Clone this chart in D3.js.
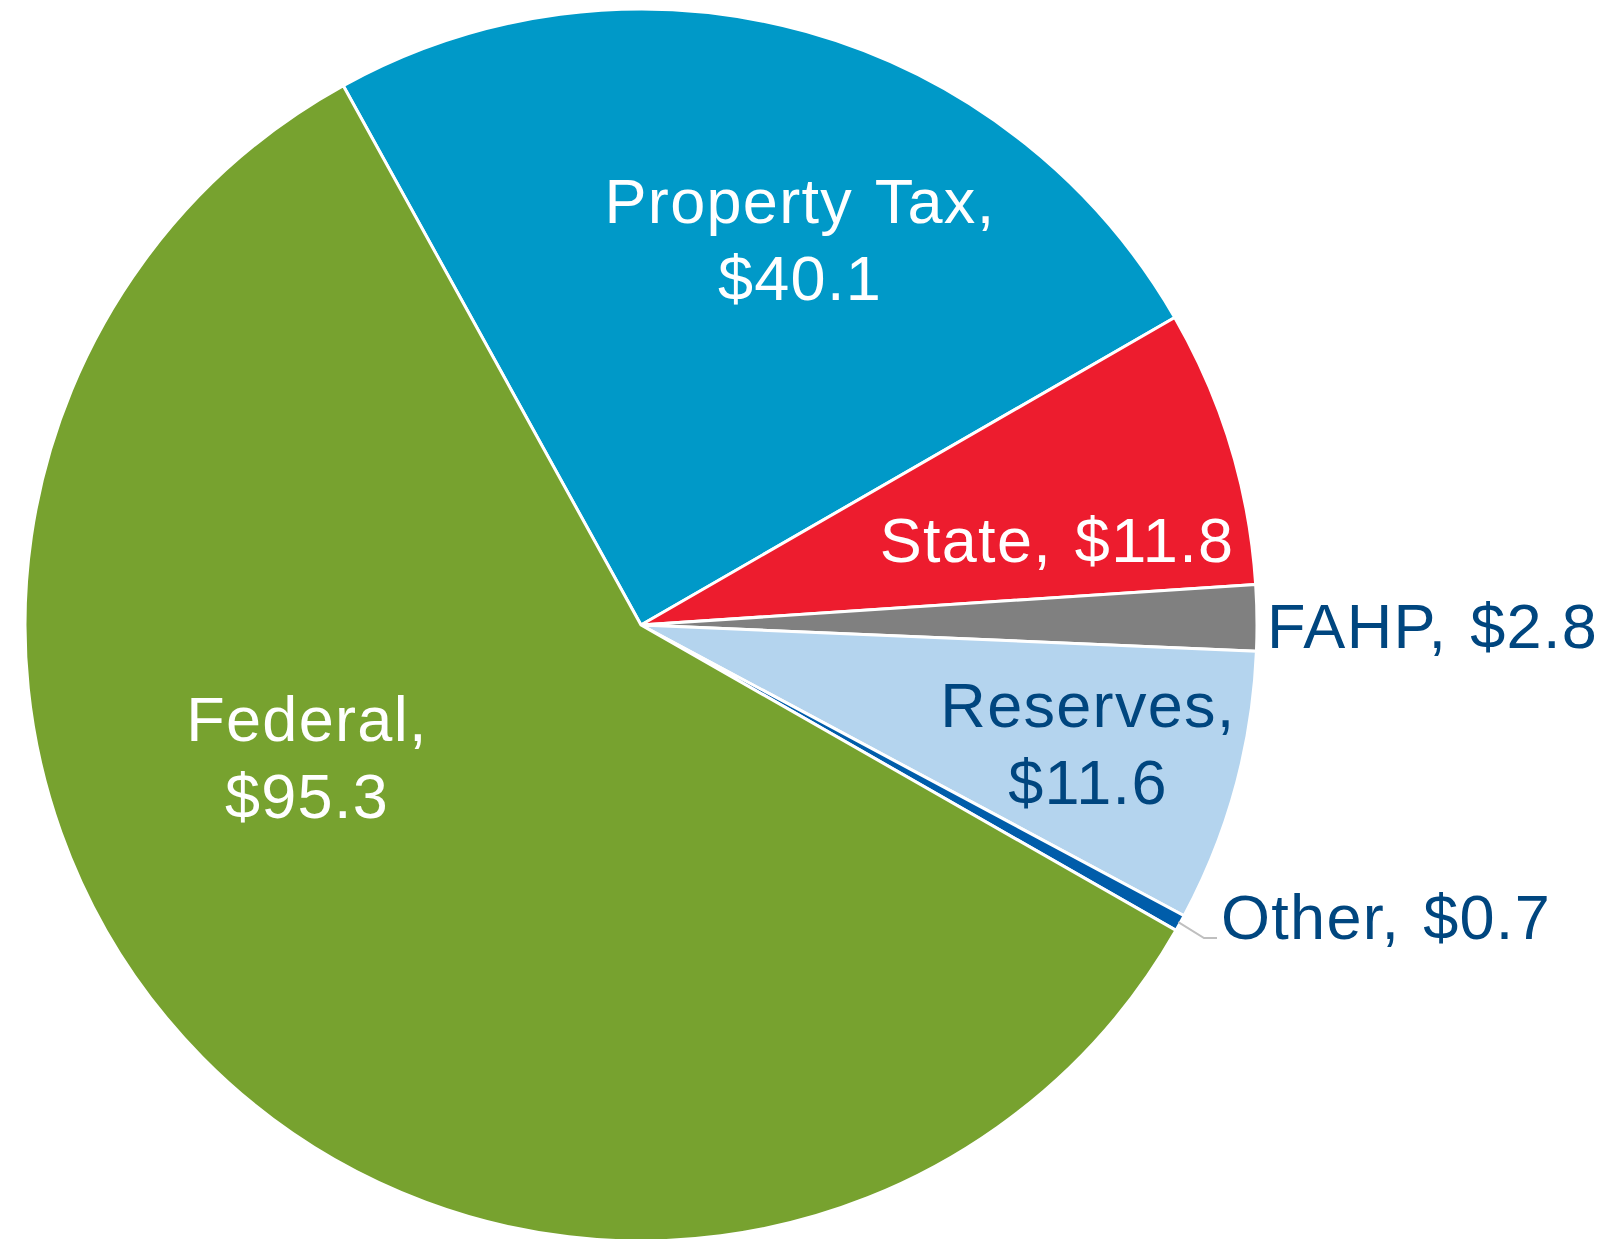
<!DOCTYPE html>
<html>
  <head>
    <meta charset="utf-8">
    <script src="https://d3js.org/d3.v7.min.js"></script>
    <title>Revenue Sources</title>
    <style>
      body { margin: 0; background: #fff; }
      text { font-family: "Liberation Sans", Arial, sans-serif; }
    </style>
  </head>
  <body>
    <svg width="1605" height="1239"></svg>
    <script>
      // data, clockwise starting from the Property Tax slice
      const categories = ['Property Tax', 'State', 'FAHP', 'Reserves', 'Other', 'Federal'];
      const values = [40.1, 11.8, 2.8, 11.6, 0.7, 95.3];
      const colors = ['#0099C8', '#ED1C2E', '#808080', '#B4D4EE', '#005DAA', '#77A22F'];

      // label layout: x, first baseline, anchor, colour, two lines or one
      const labelLayout = [
        { x: 800, y: 223, anchor: 'middle', fill: '#fff', split: true },
        { x: 1057, y: 562, anchor: 'middle', fill: '#fff', split: false },
        { x: 1267, y: 648, anchor: 'start', fill: '#00467F', split: false },
        { x: 1088, y: 727, anchor: 'middle', fill: '#00467F', split: true },
        { x: 1221, y: 939, anchor: 'start', fill: '#00467F', split: false },
        { x: 307, y: 741, anchor: 'middle', fill: '#fff', split: true }
      ];

      const svg = d3.select('svg');
      const cx = 641, cy = 625, radius = 616;
      const startAngle = -28.9 * Math.PI / 180;

      const pie = d3.pie().sort(null)
        .startAngle(startAngle)
        .endAngle(startAngle + 2 * Math.PI);
      const arcs = pie(values);
      const arc = d3.arc().innerRadius(0).outerRadius(radius);

      const g = svg.append('g').attr('transform', `translate(${cx},${cy})`);

      g.selectAll('path').data(arcs)
        .enter().append('path')
          .attr('d', arc)
          .attr('fill', (d, i) => colors[i])
          .attr('stroke', '#fff')
          .attr('stroke-width', 3)
          .attr('stroke-linejoin', 'round');

      // leader line for the small "Other" slice
      const other = arcs[4];
      const mid = (other.startAngle + other.endAngle) / 2;
      const p0 = [cx + Math.sin(mid) * (radius - 2), cy - Math.cos(mid) * (radius - 2)];
      svg.append('polyline')
        .attr('points', [p0, [1204, 938], [1217, 938]].map(p => p.join(',')).join(' '))
        .attr('fill', 'none')
        .attr('stroke', '#BFBFBF')
        .attr('stroke-width', 2);

      // labels
      categories.forEach((c, i) => {
        const L = labelLayout[i];
        const lines = L.split ? [c + ',', '$' + values[i].toFixed(1)] : [c + ', $' + values[i].toFixed(1)];
        const t = svg.append('text')
          .attr('x', L.x)
          .attr('y', L.y)
          .attr('text-anchor', L.anchor)
          .attr('fill', L.fill)
          .style('font-size', '63px')
          .style('letter-spacing', '1.3px')
          .style('word-spacing', '4px');
        lines.forEach((s, k) => {
          t.append('tspan').attr('x', L.x).attr('y', L.y + k * 77).text(s);
        });
      });
    </script>
  </body>
</html>
